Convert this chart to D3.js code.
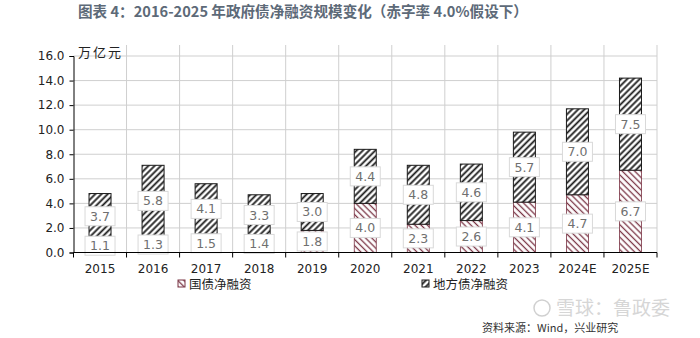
<!DOCTYPE html>
<html>
<head>
<meta charset="utf-8">
<script src="https://cdn.jsdelivr.net/npm/d3@7"></script>
<style>
  html, body { margin: 0; padding: 0; background: #fff; }
  svg { display: block; }
</style>
</head>
<body>
<svg id="chart" width="700" height="338"></svg>
<script>
// Government bond net financing, 2015–2025E (trillion yuan)
const years = ['2015','2016','2017','2018','2019','2020','2021','2022','2023','2024E','2025E'];
const nationalDebt = [1.1, 1.3, 1.5, 1.4, 1.8, 4.0, 2.3, 2.6, 4.1, 4.7, 6.7];
const localDebt    = [3.7, 5.8, 4.1, 3.3, 3.0, 4.4, 4.8, 4.6, 5.7, 7.0, 7.5];
const yTicks = [0, 2, 4, 6, 8, 10, 12, 14, 16];
const seriesNames = ['国债净融资', '地方债净融资'];

const titleText = '图表 4：2016-2025 年政府债净融资规模变化（赤字率 4.0%假设下）';
const unitText = '万亿元';
const sourceText = '资料来源：Wind，兴业研究';

const svg = d3.select('#chart');
const plotLeft = 73.5, plotRight = 657, plotBottom = 252.5, plotTop = 56;

const x = d3.scaleBand().domain(years).range([plotLeft, plotRight]).padding(0);
const y = d3.scaleLinear().domain([0, 16]).range([plotBottom, plotTop]);
const barW = 22;

// hatch patterns
const defs = svg.append('defs');
function hatch(id, angle, color, sw, gap) {
  const p = defs.append('pattern')
    .attr('id', id)
    .attr('patternUnits', 'userSpaceOnUse')
    .attr('width', gap).attr('height', gap)
    .attr('patternTransform', `rotate(${angle})`);
  p.append('rect').attr('width', gap).attr('height', gap).attr('fill', '#fff');
  p.append('line').attr('x1', gap / 2).attr('x2', gap / 2).attr('y1', 0).attr('y2', gap)
    .attr('stroke', color).attr('stroke-width', sw);
}
hatch('hatchLocal', 45, '#1a1a1a', 1.8, 4.4);
hatch('hatchNational', -45, '#7a3444', 1.3, 4.4);

// title
svg.append('text')
  .attr('x', 78).attr('y', 17)
  .attr('font-family', '"Noto Sans CJK SC", "Noto Sans", sans-serif')
  .attr('font-size', 14.6).attr('font-weight', 700)
  .attr('fill', '#5d6a78')
  .text(titleText);

// gridlines
const grid = svg.append('g');
grid.selectAll('line.h').data(yTicks.filter(d => d > 0)).join('line')
  .attr('x1', plotLeft).attr('x2', plotRight)
  .attr('y1', d => y(d)).attr('y2', d => y(d))
  .attr('stroke', '#cfcfcf').attr('stroke-width', 1);
const boundaries = years.map(d => x(d) + x.bandwidth());
grid.selectAll('line.v').data(boundaries).join('line')
  .attr('x1', d => d).attr('x2', d => d)
  .attr('y1', 45).attr('y2', plotBottom)
  .attr('stroke', '#cfcfcf').attr('stroke-width', 1);

// stacked bars
const bars = svg.append('g');
years.forEach((yr, i) => {
  const cx = x(yr) + x.bandwidth() / 2;
  const n = nationalDebt[i], l = localDebt[i];
  bars.append('rect')
    .attr('x', cx - barW / 2).attr('width', barW)
    .attr('y', y(n)).attr('height', y(0) - y(n))
    .attr('fill', 'url(#hatchNational)')
    .attr('stroke', '#7a3444').attr('stroke-width', 0.8);
  bars.append('rect')
    .attr('x', cx - barW / 2).attr('width', barW)
    .attr('y', y(n + l)).attr('height', y(n) - y(n + l))
    .attr('fill', 'url(#hatchLocal)')
    .attr('stroke', '#1a1a1a').attr('stroke-width', 1);
});

// value labels
const labels = svg.append('g')
  .attr('font-family', '"DejaVu Sans", Verdana, sans-serif')
  .attr('font-size', 12.5).attr('fill', '#707070');
function valueLabel(cx, cy, v) {
  const w = 30, h = 19;
  labels.append('rect')
    .attr('x', cx - w / 2).attr('y', cy - h / 2)
    .attr('width', w).attr('height', h)
    .attr('fill', '#fff').attr('stroke', '#d9d9d9').attr('stroke-width', 1);
  labels.append('text')
    .attr('x', cx).attr('y', cy).attr('dy', '0.36em')
    .attr('text-anchor', 'middle')
    .text(v.toFixed(1));
}
years.forEach((yr, i) => {
  const cx = x(yr) + x.bandwidth() / 2;
  const n = nationalDebt[i], l = localDebt[i];
  valueLabel(cx, y(n / 2), n);
  valueLabel(cx, y(n + l / 2), l);
});

// axes
const axisFont = '"DejaVu Sans", Verdana, sans-serif';
const yAxis = svg.append('g').attr('transform', `translate(${plotLeft},0)`)
  .call(d3.axisLeft(y).tickValues(yTicks).tickSize(4).tickFormat(d3.format('.1f')));
yAxis.select('.domain').attr('stroke', '#000');
yAxis.selectAll('.tick line').attr('stroke', '#000');
yAxis.selectAll('text').attr('font-family', axisFont).attr('font-size', 12).attr('fill', '#222').attr('dx', '-2');

const xAxis = svg.append('g').attr('transform', `translate(0,${plotBottom})`);
xAxis.append('line').attr('x1', plotLeft).attr('x2', plotRight).attr('y1', 0).attr('y2', 0).attr('stroke', '#000');
xAxis.selectAll('line.t').data([plotLeft].concat(boundaries)).join('line')
  .attr('x1', d => d).attr('x2', d => d).attr('y1', 0).attr('y2', 5).attr('stroke', '#000');
xAxis.selectAll('text').data(years).join('text')
  .attr('x', d => x(d) + x.bandwidth() / 2).attr('y', 20)
  .attr('text-anchor', 'middle')
  .attr('font-family', axisFont).attr('font-size', 12).attr('fill', '#222')
  .text(d => d);

// unit label
svg.append('text')
  .attr('x', 78).attr('y', 57)
  .attr('font-family', '"Noto Sans CJK SC", sans-serif')
  .attr('font-size', 13).attr('letter-spacing', 2).attr('fill', '#222')
  .text(unitText);

// legend
const legend = svg.append('g').attr('font-family', '"Noto Sans CJK SC", sans-serif')
  .attr('font-size', 12.5).attr('fill', '#222');
const legendItems = [
  { name: seriesNames[0], fill: 'url(#hatchNational)', stroke: '#7a3444', x: 178 },
  { name: seriesNames[1], fill: 'url(#hatchLocal)', stroke: '#1a1a1a', x: 422 }
];
legendItems.forEach(it => {
  legend.append('rect').attr('x', it.x).attr('y', 280).attr('width', 7).attr('height', 7)
    .attr('fill', it.fill).attr('stroke', it.stroke).attr('stroke-width', 1);
  legend.append('text').attr('x', it.x + 11).attr('y', 289).text(it.name);
});

// watermark and source
svg.append('text')
  .attr('x', 556).attr('y', 315)
  .attr('font-family', '"Noto Sans CJK SC", sans-serif')
  .attr('font-size', 19).attr('fill', '#d6d6d6')
  .text('雪球：鲁政委');
svg.append('circle').attr('cx', 542).attr('cy', 308).attr('r', 8)
  .attr('fill', 'none').attr('stroke', '#d0d0d0').attr('stroke-width', 1.5);
svg.append('text')
  .attr('x', 482).attr('y', 332)
  .attr('font-family', '"Noto Sans CJK SC", sans-serif')
  .attr('font-size', 11).attr('fill', '#333')
  .text(sourceText);
</script>
</body>
</html>
